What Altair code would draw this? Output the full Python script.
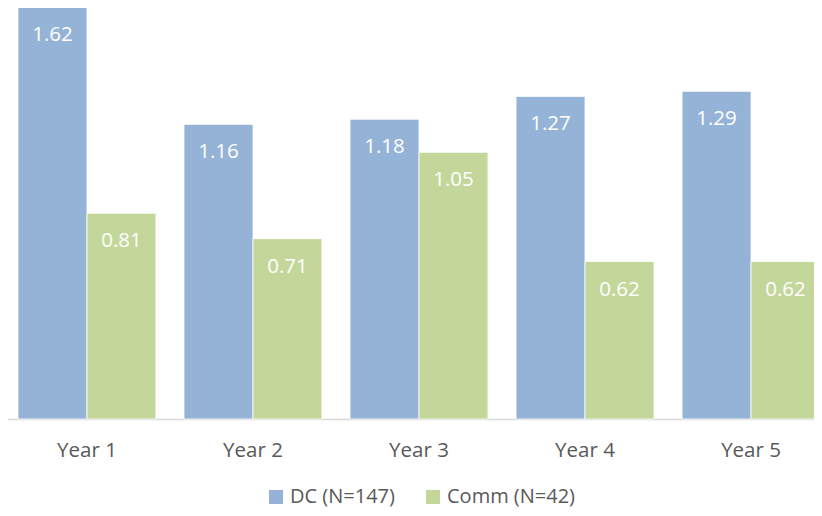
import altair as alt
import pandas as pd

years = ["Year 1", "Year 2", "Year 3", "Year 4", "Year 5"]
series = ["DC (N=147)", "Comm (N=42)"]
dc_values = [1.62, 1.16, 1.18, 1.27, 1.29]
comm_values = [0.81, 0.71, 1.05, 0.62, 0.62]
colors = ["#95B3D7", "#C4D79B"]

rows = []
for y, d, c in zip(years, dc_values, comm_values):
    rows.append({"year": y, "series": series[0], "value": d})
    rows.append({"year": y, "series": series[1], "value": c})
df = pd.DataFrame(rows)

FONT = "Open Sans"

x_enc = alt.X("year:N", sort=years, title=None,
              scale=alt.Scale(range=[-4, 826], paddingInner=0.169, paddingOuter=0.0843),
              axis=alt.Axis(labelAngle=0, ticks=False, domainColor="#D9D9D9", domainWidth=1.5,
                            labelFont=FONT, labelFontSize=20.5, labelColor="#595959",
                            labelPadding=21))
xoff = alt.XOffset("series:N", sort=series, scale=alt.Scale(paddingInner=0, paddingOuter=0))
y_enc = alt.Y("value:Q", title=None, scale=alt.Scale(domain=[0, 1.618], nice=False, zero=True),
              axis=None)

bars = alt.Chart(df).mark_bar(stroke="white", strokeWidth=0.8, clip=False).encode(
    x=x_enc, xOffset=xoff, y=y_enc,
    color=alt.Color("series:N", sort=series,
                    scale=alt.Scale(domain=series, range=colors),
                    legend=alt.Legend(title=None, orient="none", direction="horizontal",
                                      legendX=258, legendY=479, symbolType="square",
                                      symbolSize=196, symbolStrokeWidth=0,
                                      labelFont=FONT, labelFontSize=20, labelColor="#595959",
                                      columnPadding=28, labelOffset=4)),
)

labels = alt.Chart(df).mark_text(color="white", font=FONT, fontSize=20.5, baseline="middle",
                                 dy=28).encode(
    x=x_enc, xOffset=xoff, y=y_enc,
    text=alt.Text("value:Q", format=".2f"),
)

chart = (bars + labels).properties(
    width=806, height=411,
    autosize=alt.AutoSizeParams(type="none"),
    padding={"left": 0, "right": 0, "top": 0, "bottom": 89},
).configure_view(stroke=None)

chart.save("out.html", embed_options={"renderer": "svg", "actions": False})
